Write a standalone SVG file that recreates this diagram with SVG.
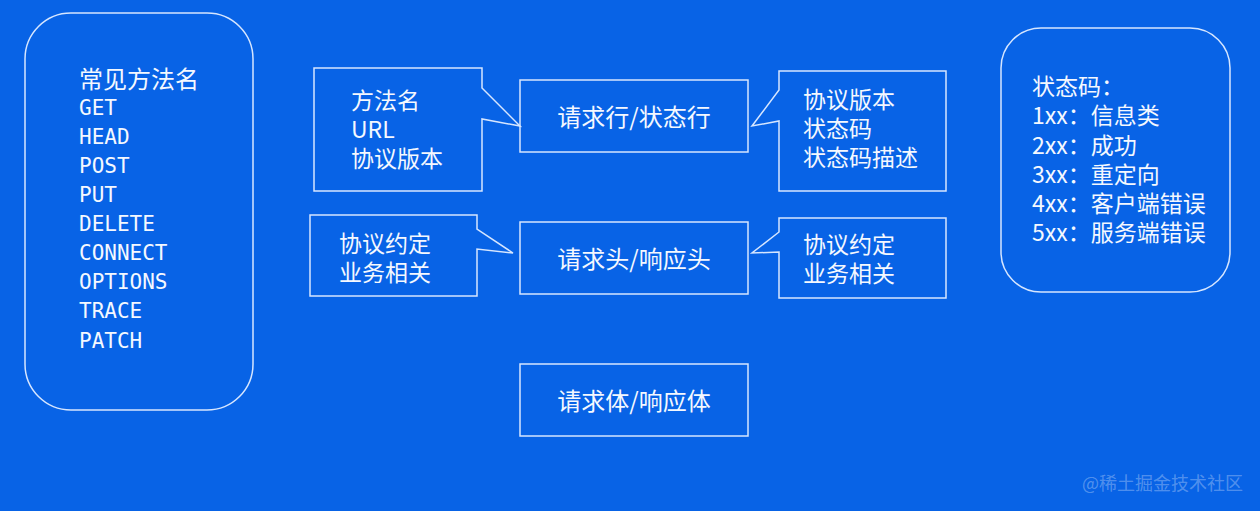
<svg xmlns="http://www.w3.org/2000/svg" width="1260" height="511" viewBox="0 0 1260 511">
<style>
.bg{fill:#0863e6}
.box{fill:none;stroke:#d6e6ff;stroke-width:1.5}
.t{fill:#f4f8ff;font-family:"Noto Sans CJK SC","Noto Sans",sans-serif;font-size:23px;dominant-baseline:central}
.m{fill:#f4f8ff;font-family:"DejaVu Sans Mono","Liberation Mono",monospace;font-size:21px;dominant-baseline:central}
.c{text-anchor:middle}
.wm{fill:#ffffff;fill-opacity:0.3;font-family:"Noto Sans CJK SC",sans-serif;font-size:18px;dominant-baseline:central}
</style>
<rect class="bg" x="0" y="0" width="1260" height="511"/>
<g id="methods">
<rect class="box" x="25" y="13" width="228" height="397" rx="46"/>
<text class="t" x="79" y="77" style="font-size:24px">常见方法名</text>
<text class="m" x="79" y="108">GET</text>
<text class="m" x="79" y="137">HEAD</text>
<text class="m" x="79" y="166">POST</text>
<text class="m" x="79" y="195">PUT</text>
<text class="m" x="79" y="224">DELETE</text>
<text class="m" x="79" y="253">CONNECT</text>
<text class="m" x="79" y="282">OPTIONS</text>
<text class="m" x="79" y="311">TRACE</text>
<text class="m" x="79" y="341">PATCH</text>
</g>
<g id="status-codes">
<rect class="box" x="1001" y="28" width="229" height="264" rx="40"/>
<text class="t" x="1032" y="85">状态码：</text>
<text class="t" x="1032" y="114">1xx：信息类</text>
<text class="t" x="1032" y="144">2xx：成功</text>
<text class="t" x="1032" y="173">3xx：重定向</text>
<text class="t" x="1032" y="202">4xx：客户端错误</text>
<text class="t" x="1032" y="231">5xx：服务端错误</text>
</g>
<g id="line">
<rect class="box" x="520" y="80" width="228" height="72"/>
<text class="t c" x="634" y="115" style="font-size:24px">请求行/状态行</text>
</g>
<g id="header">
<rect class="box" x="520" y="222" width="228" height="72"/>
<text class="t c" x="634" y="257" style="font-size:24px">请求头/响应头</text>
</g>
<g id="body">
<rect class="box" x="520" y="364" width="228" height="72"/>
<text class="t c" x="634" y="399" style="font-size:24px">请求体/响应体</text>
</g>
<g id="req-line-note">
<path class="box" d="M314,68 H482 V88 L520,126 L482,119 V191 H314 Z"/>
<text class="t" x="351" y="99">方法名</text>
<text class="t" x="351" y="128">URL</text>
<text class="t" x="351" y="157">协议版本</text>
</g>
<g id="req-header-note">
<path class="box" d="M310,215 H477 V229 L513,253 L477,249 V296 H310 Z"/>
<text class="t" x="339" y="242">协议约定</text>
<text class="t" x="339" y="271">业务相关</text>
</g>
<g id="resp-line-note">
<path class="box" d="M779,71 H946 V191 H779 V121 L752,126 L779,90 Z"/>
<text class="t" x="803" y="98">协议版本</text>
<text class="t" x="803" y="127">状态码</text>
<text class="t" x="803" y="156">状态码描述</text>
</g>
<g id="resp-header-note">
<path class="box" d="M779,218 H946 V298 H779 V252 L752,253 L779,232 Z"/>
<text class="t" x="803" y="243">协议约定</text>
<text class="t" x="803" y="272">业务相关</text>
</g>
<g id="connectors"></g>
<text class="wm" x="1082" y="482">@稀土掘金技术社区</text>
</svg>
